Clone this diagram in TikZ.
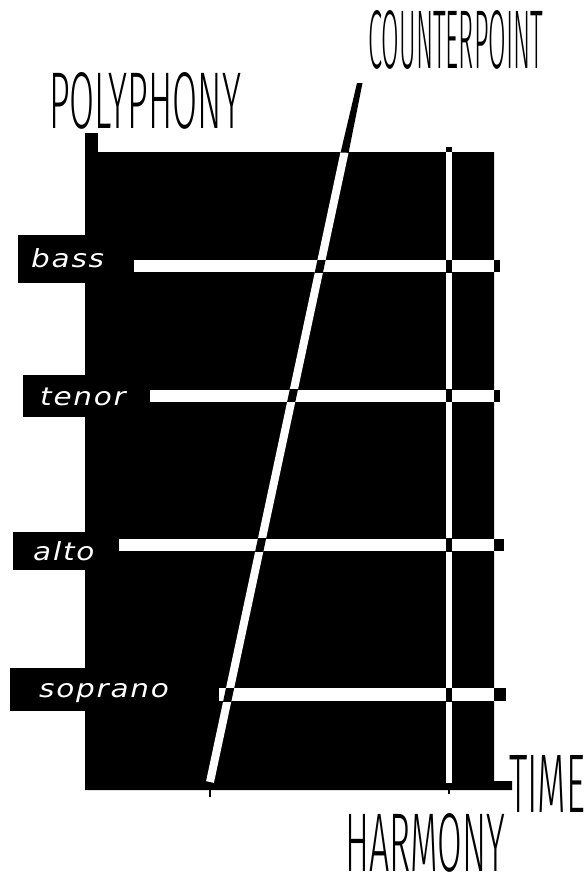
\documentclass[tikz,border=0pt]{standalone}
\usepackage{fontspec}
\setmainfont{Liberation Sans}
\newfontfamily\labelfont[LetterSpace=6]{DejaVu Sans}
\newfontfamily\thinfont{Fira Sans Light}
\usepackage{graphicx}
\tikzset{
  lab/.style={white, inner sep=0pt, font=\labelfont\slshape\fontsize{25}{25}\selectfont, anchor=base west},
  ttl/.style={black, inner sep=0pt, anchor=north west},
  cpline/.style={line width=8pt},
  hmline/.style={line width=6pt},
}
\newcommand{\ttltext}[3]{\resizebox{#1pt}{#2pt}{\thinfont #3}}
\newcommand{\labtext}[1]{\scalebox{1.18}[1]{#1}}
\begin{document}
\begin{tikzpicture}[x=1pt,y=-1pt]
\useasboundingbox (0,0) rectangle (587,878);
\fill[white] (0,0) rectangle (587,878);
% black body with polyphony axis tab and time axis stub
\fill[black] (85,152) -- (494,152) -- (494,781) -- (512,781) -- (512,790) -- (85,790) -- cycle;
\fill[black] (85,133) rectangle (98,153);
% label boxes
\fill[black] (18,235) rectangle (86,283);
\fill[black] (23,375) rectangle (86,417);
\fill[black] (13,532) rectangle (86,570);
\fill[black] (10,668) rectangle (86,711);
% coordinates
\coordinate (cpB) at (210,782);
\coordinate (cpM) at (344.6,152);
\coordinate (hmT) at (449,152);
\coordinate (hmB) at (449,783);
% voice lines
\fill[white] (134,260) rectangle (494,272);
\fill[white] (150,389.5) rectangle (494,401.5);
\fill[white] (119,538.5) rectangle (494,551);
\fill[white] (219,688) rectangle (494,701);
\fill[black] (494,260) rectangle (500,272);
\fill[black] (494,389.5) rectangle (500,401.5);
\fill[black] (494,538.5) rectangle (504,551);
\fill[black] (494,688) rectangle (506,701);
% counterpoint and harmony lines
\draw[white, cpline] (cpB) -- (cpM);
\fill[black] (340.6,152.5) -- (348.6,152.5) -- (362.5,83) -- (357,83) -- cycle;
\draw[white, hmline] (hmT) -- (hmB);
\fill[black] (446,147) rectangle (452,152);
\draw[black, line width=2pt] (449,790) -- (449,794);
\draw[black, line width=2pt] (210,790) -- (210,797);
% intersections
\foreach \ya/\yb in {260/272, 389.5/401.5, 538.5/551, 688/701}{
  \begin{scope}
    \clip (100,\ya) rectangle (494,\yb);
    \draw[black, cpline] (cpB) -- (cpM);
    \draw[black, hmline] (hmT) -- (hmB);
  \end{scope}
}
% labels
\node[lab] (bass) at (31,267) {\labtext{bass}};
\node[lab] (tenor) at (40,405) {\labtext{tenor}};
\node[lab] (alto) at (33,560) {\labtext{alto}};
\node[lab] (soprano) at (39,697) {\labtext{soprano}};
% titles
\node[ttl] (poly) at (49,72) {\ttltext{192}{56}{POLYPHONY}};
\node[ttl] (counter) at (368,10) {\ttltext{175}{58}{COUNTERPOINT}};
\node[ttl] (harmony) at (345,813) {\ttltext{160}{58}{HARMONY}};
\node[ttl] (time) at (509,755) {\ttltext{76}{57}{TIME}};
\end{tikzpicture}
\end{document}
